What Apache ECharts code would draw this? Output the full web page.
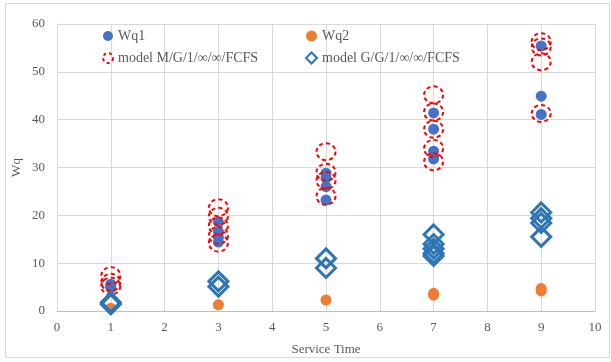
<!DOCTYPE html>
<html>
<head>
<meta charset="utf-8">
<script src="https://cdn.jsdelivr.net/npm/echarts@6/dist/echarts.min.js"></script>
<style>
  html, body { margin: 0; padding: 0; background: #fff; }
  #chart { width: 611px; height: 362px; }
</style>
</head>
<body>
<div id="chart"></div>
<script>
// Service times at which each group of observations was taken
const serviceTimes = [1, 3, 5, 7, 9];

// Waiting time in queue, one list per service time
const wq1 = [
  [5.6, 4.8, 5.2],
  [18.6, 16.6, 15.4, 14.4],
  [28.8, 27.8, 26.0, 23.2],
  [41.4, 38.0, 33.4, 31.8],
  [55.4, 44.9, 41.1]
];
const wq2 = [
  [0.6],
  [1.3],
  [2.3],
  [3.3, 3.7],
  [4.2, 4.7]
];
const modelMG = [
  [7.4, 6.0, 5.2],
  [21.6, 19.8, 17.8, 15.8, 14.2],
  [33.3, 29.0, 27.3, 24.0],
  [45.2, 41.6, 38.0, 34.0, 31.2],
  [56.3, 55.2, 52.1, 41.3]
];
const modelGG = [
  [1.8, 1.4],
  [6.2, 5.1],
  [11.0, 9.0],
  [16.0, 14.0, 13.0, 12.0, 11.5],
  [20.6, 19.4, 18.4, 15.5]
];

const xTicks = [0, 1, 2, 3, 4, 5, 6, 7, 8, 9, 10];
const yTicks = [0, 10, 20, 30, 40, 50, 60];

const names = ['Wq1', 'Wq2', 'model M/G/1/\u221e/\u221e/FCFS', 'model G/G/1/\u221e/\u221e/FCFS'];

function toPoints(groups) {
  const pts = [];
  groups.forEach((vals, i) => vals.forEach(v => pts.push([serviceTimes[i], v])));
  return pts;
}

const FONT = '"Liberation Serif", "Times New Roman", serif';
const TEXT = '#595959';
const GRIDC = '#D9D9D9';

const chart = echarts.init(document.getElementById('chart'), null, { renderer: 'canvas' });

const legendText = { fontFamily: FONT, fontSize: 14, color: TEXT };

chart.setOption({
  animation: false,
  backgroundColor: '#fff',
  graphic: [{
    type: 'rect',
    shape: { x: 5.5, y: 3.5, width: 604, height: 354 },
    style: { fill: 'none', stroke: GRIDC, lineWidth: 1 },
    z: -1
  }],
  grid: { left: 57, right: 16, top: 24, bottom: 51 },
  legend: [
    {
      data: [
        { name: names[0], icon: 'circle', itemStyle: { color: '#4472C4' } },
        { name: names[2], icon: 'circle', itemStyle: { color: 'transparent', borderColor: '#FF0000', borderWidth: 2, borderType: [3, 3] } }
      ],
      orient: 'vertical', left: 97, top: 24, itemGap: 8,
      itemWidth: 10, itemHeight: 10, textStyle: legendText
    },
    {
      data: [
        { name: names[1], icon: 'circle', itemStyle: { color: '#ED7D31' } },
        { name: names[3], icon: 'diamond', itemStyle: { color: 'transparent', borderColor: '#2E75B6', borderWidth: 2 } }
      ],
      orient: 'vertical', left: 300, top: 24, itemGap: 8,
      itemWidth: 11, itemHeight: 11, textStyle: legendText
    }
  ],
  xAxis: {
    type: 'value', min: 0, max: 10, interval: 1,
    name: 'Service Time', nameLocation: 'middle', nameGap: 32,
    nameTextStyle: { fontFamily: FONT, fontSize: 13, color: TEXT },
    axisLine: { show: true, lineStyle: { color: '#BFBFBF', width: 1 } },
    axisTick: { show: false },
    axisLabel: { fontFamily: FONT, fontSize: 13, color: TEXT, margin: 10,
      formatter: v => xTicks.includes(v) ? String(v) : '' },
    splitLine: { show: true, lineStyle: { color: GRIDC, width: 1 } }
  },
  yAxis: {
    type: 'value', min: 0, max: 60, interval: 10,
    name: 'Wq', nameLocation: 'middle', nameGap: 34, nameMoveOverlap: false,
    nameTextStyle: { fontFamily: FONT, fontSize: 13, color: TEXT },
    axisLine: { show: true, lineStyle: { color: GRIDC, width: 1 } },
    axisTick: { show: false },
    axisLabel: { fontFamily: FONT, fontSize: 13, color: TEXT, margin: 12,
      formatter: v => yTicks.includes(v) ? String(v) : '' },
    splitLine: { show: true, lineStyle: { color: GRIDC, width: 1 } }
  },
  series: [
    {
      name: names[0], type: 'scatter', data: toPoints(wq1),
      symbol: 'circle', symbolSize: 11,
      itemStyle: { color: '#4472C4', opacity: 1 }
    },
    {
      name: names[1], type: 'scatter', data: toPoints(wq2),
      symbol: 'circle', symbolSize: 11,
      itemStyle: { color: '#ED7D31', opacity: 1 }
    },
    {
      name: names[2], type: 'scatter', data: toPoints(modelMG),
      symbol: 'circle', symbolSize: [19, 17],
      itemStyle: { color: 'transparent', borderColor: '#FF0000', borderWidth: 2, borderType: [4, 3], opacity: 1 }
    },
    {
      name: names[3], type: 'scatter', data: toPoints(modelGG),
      symbol: 'diamond', symbolSize: [19, 19],
      itemStyle: { color: 'transparent', borderColor: '#2E75B6', borderWidth: 3, opacity: 1 }
    }
  ]
});
</script>
</body>
</html>
